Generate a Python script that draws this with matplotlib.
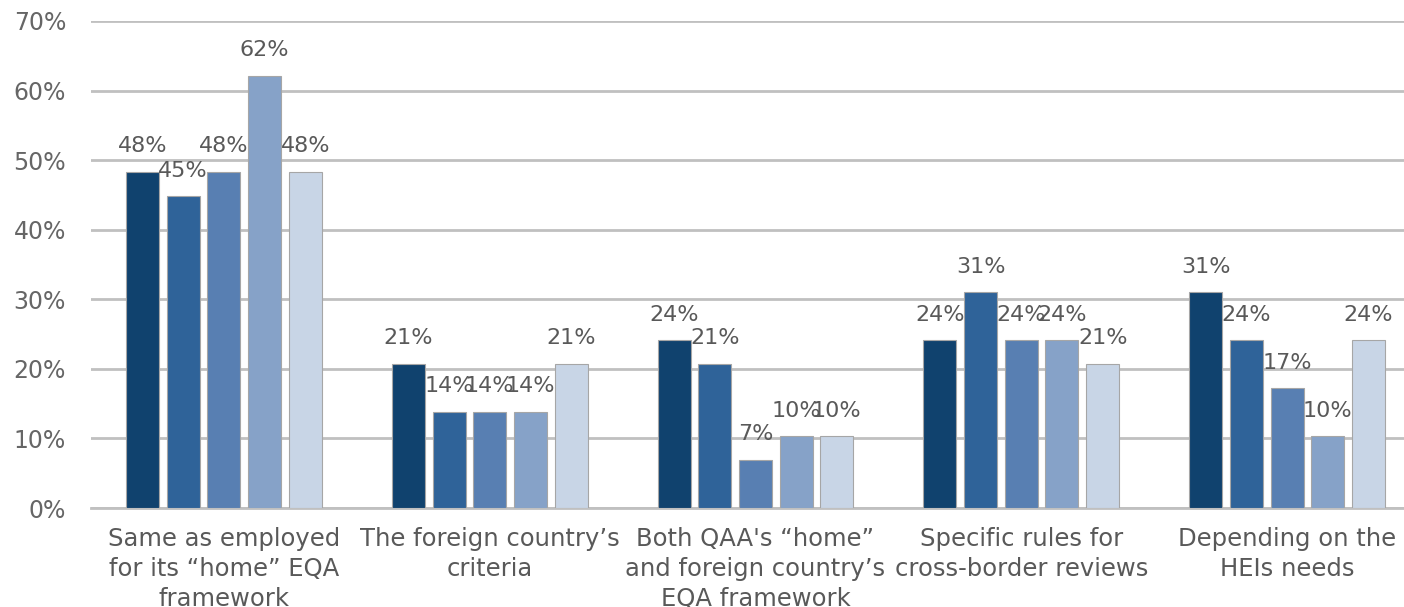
import matplotlib.pyplot as plt
import numpy as np

# Categories and the five series (shares of respondents)
categories = [
    "Same as employed\nfor its \u201chome\u201d EQA\nframework",
    "The foreign country\u2019s\ncriteria",
    "Both QAA's \u201chome\u201d\nand foreign country\u2019s\nEQA framework",
    "Specific rules for\ncross-border reviews",
    "Depending on the\nHEIs needs",
]
series_1 = [0.483, 0.207, 0.241, 0.241, 0.310]
series_2 = [0.448, 0.138, 0.207, 0.310, 0.241]
series_3 = [0.483, 0.138, 0.069, 0.241, 0.172]
series_4 = [0.621, 0.138, 0.103, 0.241, 0.103]
series_5 = [0.483, 0.207, 0.103, 0.207, 0.241]
y_ticks = [0, 0.1, 0.2, 0.3, 0.4, 0.5, 0.6, 0.7]

colors = ["#10426e", "#2f6399", "#587fb2", "#86a2c8", "#c8d5e6"]
all_series = [series_1, series_2, series_3, series_4, series_5]

fig = plt.figure(figsize=(14.04, 6.07), dpi=100)
ax = fig.add_axes([91 / 1404, 99 / 607, 1329 / 1404, 487 / 607])

x = np.arange(len(categories))
width = 0.124
step = 0.153

for i, (vals, col) in enumerate(zip(all_series, colors)):
    pos = x + (i - 2) * step
    bars = ax.bar(pos, vals, width, color=col, edgecolor="#a6a6a6",
                  linewidth=0.8, zorder=3)
    for b, v in zip(bars, vals):
        ax.annotate(f"{round(v * 100)}%", (b.get_x() + b.get_width() / 2, v),
                    xytext=(0, 18.5), textcoords="offset points",
                    ha="center", va="center", fontsize=16, color="#595959",
                    zorder=4)

ax.set_ylim(0, 0.7)
ax.set_xlim(-0.5, len(categories) - 0.5)
ax.set_yticks(y_ticks)
ax.set_yticklabels([f"{int(round(t * 100))}%" for t in y_ticks])
ax.yaxis.grid(True, color="#c0c0c0", linewidth=2, zorder=0)
ax.set_axisbelow(True)

ax.set_xticks(x)
ax.set_xticklabels(categories, fontsize=17.5, color="#595959", linespacing=1.3)
ax.tick_params(axis="x", length=0, pad=14)
ax.tick_params(axis="y", length=0, pad=18, labelsize=17, labelcolor="#666666")

for s in ["top", "right", "left"]:
    ax.spines[s].set_visible(False)
ax.spines["bottom"].set_color("#c0c0c0")
ax.spines["bottom"].set_linewidth(2)

fig.savefig("out.png", dpi=100)
